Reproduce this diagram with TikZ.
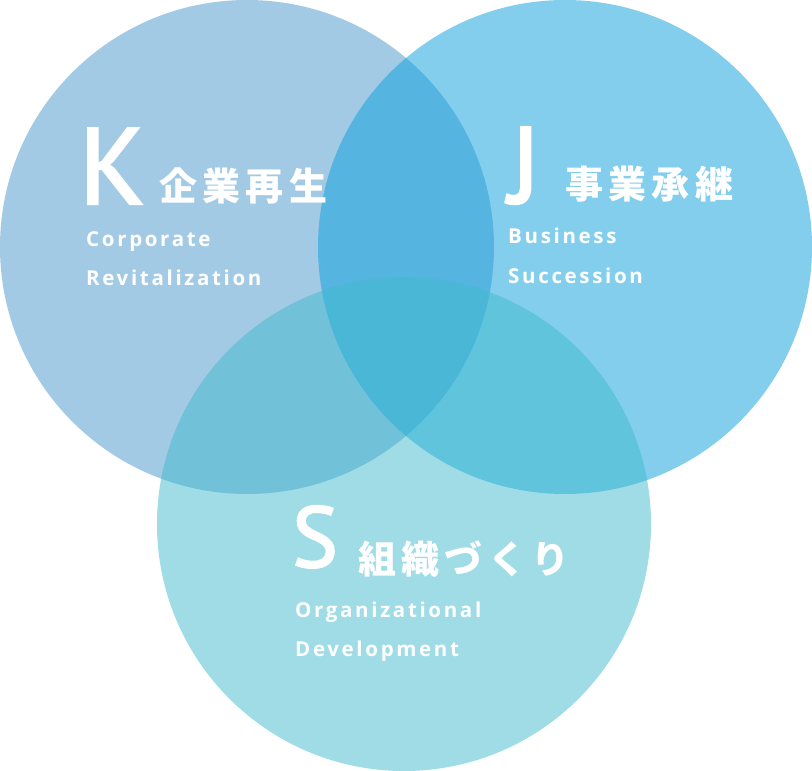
\documentclass[tikz,border=0pt]{standalone}
\usepackage{fontspec}
\setmainfont{Open Sans}
\newfontfamily\bigfont{PT Sans}[FakeBold=2.2]
\newfontfamily\jpfont{Noto Sans CJK JP}[LetterSpace=14]
\newfontfamily\enfont{Open Sans}[LetterSpace=13]
\definecolor{kblue}{RGB}{73,151,205}
\definecolor{jblue}{RGB}{9,159,221}
\definecolor{sblue}{RGB}{65,187,207}

\begin{document}
\begin{tikzpicture}[x=1pt,y=-1pt]
            \tikzset{area/.style = {shape=circle,minimum size=494pt,inner sep=0pt,fill opacity=0.5}}
            \tikzset{initial/.style = {anchor=base west,inner sep=0pt,text=white,font=\bigfont\fontsize{108}{108}\selectfont}}
            \tikzset{title/.style = {anchor=base west,inner sep=0pt,text=white,font=\jpfont\bfseries\fontsize{38}{38}\selectfont}}
            \tikzset{subtitle/.style = {anchor=base west,inner sep=0pt,text=white,font=\enfont\bfseries\fontsize{20.5}{20.5}\selectfont}}
            \useasboundingbox (0,0) rectangle (812,771);
            \fill[white] (0,0) rectangle (812,771);
            % circles
            \node[area, fill=kblue] (kcircle) at (247,247) {};
            \node[area, fill=jblue] (jcircle) at (565,247) {};
            \node[area, fill=sblue] (scircle) at (404,524) {};
            % labels
            \node[initial] (kletter) at (79,204) {K};
            \node[title] (ktitle) at (159,200) {企業再生};
            \node[subtitle] (ken1) at (86,246) {Corporate};
            \node[subtitle] (ken2) at (86,285) {Revitalization};
            \node[initial] (jletter) at (509,203) {J};
            \node[title] (jtitle) at (565,198) {事業承継};
            \node[subtitle] (jen1) at (508,243) {Business};
            \node[subtitle] (jen2) at (508,283) {Succession};
            \node[initial, font=\bigfont\fontsize{86}{86}\selectfont] (sletter) at (292,567) {S};
            \node[title] (stitle) at (358,573) {組織づくり};
            \node[subtitle] (sen1) at (295,617) {Organizational};
            \node[subtitle] (sen2) at (295,656) {Development};
        \end{tikzpicture}
\end{document}
